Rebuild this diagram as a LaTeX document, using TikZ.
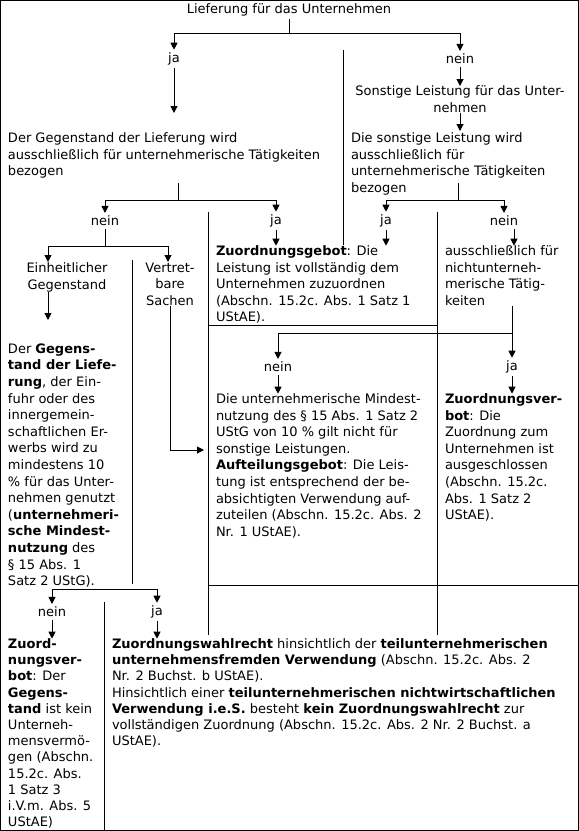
\documentclass[tikz,border=0pt]{standalone}
\usepackage{fontspec}
\setmainfont{DejaVu Sans}
\usetikzlibrary{arrows.meta}

\tikzset{
  txt/.style={inner sep=0pt, outer sep=0pt, anchor=north west, align=left},
  eng/.style={txt, font=\fontsize{13}{16.2}\selectfont},
  mitte/.style={inner sep=0pt, outer sep=0pt, anchor=north, align=center},
  antwort/.style={inner sep=0pt, outer sep=3pt},
  pfeil/.style={-{Triangle[length=7pt,width=7pt]}},
}

\begin{document}
\begin{tikzpicture}[x=1pt, y=-1pt, line width=1pt, font=\fontsize{13}{16.6}\selectfont]
    \useasboundingbox (0,0) rectangle (579,831);
    \draw (0.5,0.5) rectangle (578.5,830.5);

    % Frage und erste Verzweigung
    \node[antwort] (titel) at (289,10) {Lieferung für das Unternehmen};
    \node[antwort] (ja1) at (174,59) {ja};
    \node[antwort] (nein1) at (460,59) {nein};

    \node[txt] (lief) at (8,132.7) {Der Gegenstand der Lieferung wird\\ausschließlich für unternehmerische Tätigkeiten\\bezogen};
    \node[mitte] (sonst) at (460,86) {Sonstige Leistung für das Unter-\\nehmen};
    \node[txt] (sdl) at (351,132.7) {Die sonstige Leistung wird\\ausschließlich für\\unternehmerische Tätigkeiten\\bezogen};

    \node[antwort] (nein2) at (105,221) {nein};
    \node[antwort] (ja2) at (276,221) {ja};
    \node[antwort] (ja3) at (386,221) {ja};
    \node[antwort] (nein3) at (504,221) {nein};

    \node[mitte] (einh) at (67,262.7) {Einheitlicher\\Gegenstand};
    \node[mitte] (vert) at (170,262.7) {Vertret-\\bare\\Sachen};
    \node[txt] (zg) at (216,245.7) {\textbf{Zuordnungsgebot}: Die\\Leistung ist vollständig dem\\Unternehmen zuzuordnen\\(Abschn. 15.2c. Abs. 1 Satz 1\\UStAE).};
    \node[txt] (aus) at (445,245.7) {ausschließlich für\\nichtunterneh-\\merische Tätig-\\keiten};

    \node[txt] (mind) at (8,343.7) {Der \textbf{Gegens-}\\\textbf{tand der Liefe-}\\\textbf{rung}, der Ein-\\fuhr oder des\\innergemein-\\schaftlichen Er-\\werbs wird zu\\mindestens 10\\\% für das Unter-\\nehmen genutzt\\(\textbf{unternehmeri-}\\\textbf{sche Mindest-}\\\textbf{nutzung} des\\§ 15 Abs. 1\\Satz 2 UStG).};

    \node[antwort] (nein4) at (278,367) {nein};
    \node[antwort] (ja4) at (512,367) {ja};
    \node[txt] (umd) at (216,393.7) {Die unternehmerische Mindest-\\nutzung des § 15 Abs. 1 Satz 2\\UStG von 10 \% gilt nicht für\\sonstige Leistungen.\\\textbf{Aufteilungsgebot}: Die Leis-\\tung ist entsprechend der be-\\absichtigten Verwendung auf-\\zuteilen (Abschn. 15.2c. Abs. 2\\Nr. 1 UStAE).};
    \node[txt] (zv) at (445,393.7) {\textbf{Zuordnungsver-}\\\textbf{bot}: Die\\Zuordnung zum\\Unternehmen ist\\ausgeschlossen\\(Abschn. 15.2c.\\Abs. 1 Satz 2\\UStAE).};

    \node[antwort] (nein5) at (52,612) {nein};
    \node[antwort] (ja5) at (157,612) {ja};
    \node[eng] (zv2) at (8,638.7) {\textbf{Zuord-}\\\textbf{nungsver-}\\\textbf{bot}: Der\\\textbf{Gegens-}\\\textbf{tand} ist kein\\Unterneh-\\mensvermö-\\gen (Abschn.\\15.2c. Abs.\\1 Satz 3\\i.V.m. Abs. 5\\UStAE)};
    \node[eng] (wahl) at (112,638.7) {\textbf{Zuordnungswahlrecht} hinsichtlich der \textbf{teilunternehmerischen}\\\textbf{unternehmensfremden Verwendung} (Abschn. 15.2c. Abs. 2\\Nr. 2 Buchst. b UStAE).\\Hinsichtlich einer \textbf{teilunternehmerischen nichtwirtschaftlichen}\\\textbf{Verwendung i.e.S.} besteht \textbf{kein Zuordnungswahlrecht} zur\\vollständigen Zuordnung (Abschn. 15.2c. Abs. 2 Nr. 2 Buchst. a\\UStAE).};

    % Verzweigungspunkte
    \coordinate (t1) at (289,33);
    \coordinate (p1) at (174,113);
    \coordinate (p2) at (460,131);
    \coordinate (s2) at (178,183);
    \coordinate (g2) at (178,200);
    \coordinate (s4) at (458,183);
    \coordinate (g4) at (458,200);
    \coordinate (g3) at (105,246);
    \coordinate (e1) at (48,262);
    \coordinate (e3) at (48,320);
    \coordinate (v0) at (168,262);
    \coordinate (v1) at (204,450);
    \coordinate (a1) at (514,228);
    \coordinate (k1) at (512,333);
    \coordinate (b1) at (52,589);

    % Pfeile
    \draw (titel) -- (t1);
    \draw[pfeil] (t1) -| (ja1);
    \draw[pfeil] (t1) -| (nein1);
    \draw[pfeil] (ja1) -- (p1);
    \draw[pfeil] (nein1) -- (sonst);
    \draw[pfeil] (sonst) -- (p2);

    \draw (s2) -- (g2);
    \draw[pfeil] (g2) -| (nein2);
    \draw[pfeil] (g2) -| (ja2);
    \draw (s4) -- (g4);
    \draw[pfeil] (g4) -| (ja3);
    \draw[pfeil] (g4) -| (nein3);

    \draw[pfeil] (ja2) -- (ja2 |- zg.north);
    \draw[pfeil] (ja3) -- (ja3 |- zg.north);
    \draw[pfeil] (nein3.south -| a1) -- (a1 |- aus.north);

    \draw (nein2) -- (g3);
    \draw[pfeil] (g3) -| (e1);
    \draw[pfeil] (g3) -| (v0);
    \draw[pfeil] (e1 |- einh.south) -- (e3);
    \draw[pfeil] (vert) |- (v1);

    \draw[pfeil] (aus.south -| ja4) -- (ja4);
    \draw[pfeil] (k1) -| (nein4);
    \draw[pfeil] (nein4) -- (nein4 |- umd.north);
    \draw[pfeil] (ja4) -- (ja4 |- zv.north);

    \draw[pfeil] (b1) -- (nein5);
    \draw[pfeil] (b1) -| (ja5);
    \draw[pfeil] (nein5) -- (nein5 |- zv2.north);
    \draw[pfeil] (ja5) -- (ja5 |- wahl.north);

    % Trennlinien
    \draw (343,50) -- (343,245);
    \draw (208,212) -- (208,635);
    \draw (437,212) -- (437,635);
    \draw (208,325) -- (437,325);
    \draw (208,585) -- (578,585);
    \draw (132,260) -- (132,584);
    \draw (104,602) -- (104,830);
\end{tikzpicture}
\end{document}
